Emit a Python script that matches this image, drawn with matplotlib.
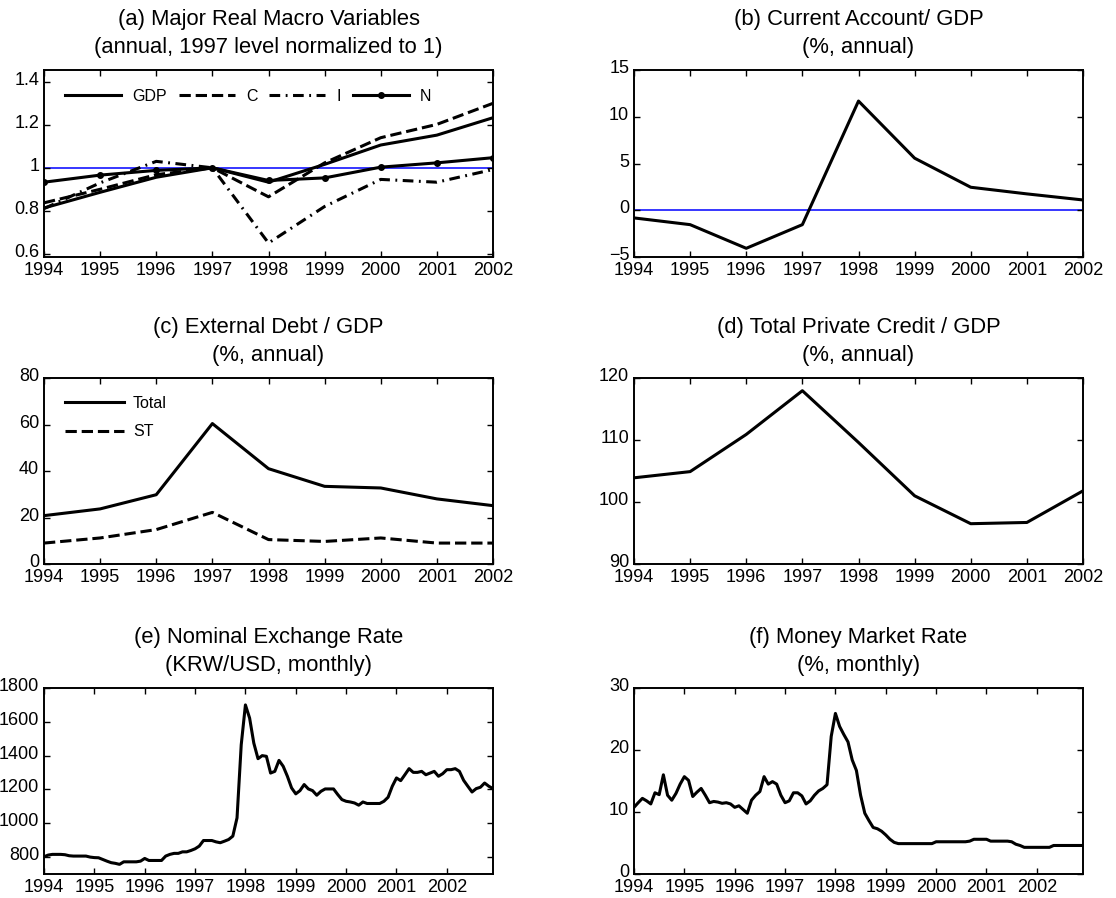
import numpy as np
import matplotlib
matplotlib.use("Agg")
import matplotlib.pyplot as plt
from matplotlib.transforms import ScaledTranslation

# ---------------- data ----------------
years = [1994, 1995, 1996, 1997, 1998, 1999, 2000, 2001, 2002]
year_labels = [str(y) for y in years]

gdp = [0.813, 0.886, 0.956, 1.0, 0.933, 1.016, 1.106, 1.152, 1.233]
cons = [0.837, 0.900, 0.968, 1.0, 0.865, 1.023, 1.140, 1.202, 1.300]
inv = [0.810, 0.930, 1.030, 1.0, 0.650, 0.820, 0.946, 0.933, 0.992]
emp = [0.933, 0.966, 0.988, 1.0, 0.941, 0.953, 1.003, 1.023, 1.047]

ca_gdp = [-0.82, -1.54, -4.07, -1.54, 11.68, 5.57, 2.46, 1.75, 1.10]

debt_total = [20.8, 23.7, 29.8, 60.4, 41.0, 33.4, 32.7, 28.0, 25.1]
debt_st = [9.0, 11.2, 14.8, 22.2, 10.5, 9.7, 11.2, 9.0, 9.0]

credit_gdp = [103.9, 104.9, 110.9, 117.95, 109.6, 101.0, 96.5, 96.7, 101.8]

# monthly, Jan 1994 .. Dec 2002
krw_usd = [
    802, 812, 816, 816, 816, 814, 808, 806, 806, 806, 806, 800,
    797, 796, 786, 776, 767, 763, 757, 772, 772, 772, 772, 776,
    792, 780, 780, 780, 780, 806, 816, 822, 822, 831, 831, 839,
    849, 865, 898, 898, 898, 890, 885, 894, 904, 924, 1032, 1464,
    1700, 1622, 1474, 1382, 1400, 1396, 1297, 1307, 1372, 1337, 1278, 1209,
    1174, 1193, 1229, 1203, 1193, 1166, 1189, 1203, 1203, 1203, 1170, 1140,
    1130, 1126, 1120, 1107, 1126, 1117, 1117, 1117, 1117, 1130, 1154, 1219,
    1268, 1252, 1287, 1323, 1301, 1301, 1307, 1287, 1297, 1307, 1278, 1293,
    1317, 1317, 1323, 1307, 1254, 1219, 1185, 1205, 1213, 1238, 1219, 1205,
]
money_rate = [
    10.75, 11.5, 12.2, 11.8, 11.3, 13.1, 12.8, 16.0, 12.7, 11.9, 13.0, 14.5,
    15.7, 15.1, 12.5, 13.2, 13.8, 12.7, 11.5, 11.7, 11.6, 11.4, 11.5, 11.3,
    10.75, 11.0, 10.4, 9.8, 11.9, 12.7, 13.3, 15.7, 14.5, 14.9, 14.5, 12.7,
    11.5, 11.8, 13.1, 13.1, 12.6, 11.3, 11.8, 12.7, 13.4, 13.8, 14.4, 22.2,
    25.9, 23.8, 22.5, 21.3, 18.4, 16.7, 12.7, 9.8, 8.6, 7.5, 7.3, 6.9,
    6.3, 5.6, 5.1, 4.9, 4.9, 4.9, 4.9, 4.9, 4.9, 4.9, 4.9, 4.9,
    5.2, 5.2, 5.2, 5.2, 5.2, 5.2, 5.2, 5.2, 5.3, 5.6, 5.6, 5.6,
    5.6, 5.3, 5.3, 5.3, 5.3, 5.3, 5.2, 4.8, 4.6, 4.3, 4.3, 4.3,
    4.3, 4.3, 4.3, 4.3, 4.6, 4.6, 4.6, 4.6, 4.6, 4.6, 4.6, 4.6,
]
months = 1994 + np.arange(len(krw_usd)) / 12.0

titles = [
    "(a) Major Real Macro Variables\n(annual, 1997 level normalized to 1)",
    "(b) Current Account/ GDP\n(%, annual)",
    "(c) External Debt / GDP\n(%, annual)",
    "(d) Total Private Credit / GDP\n(%, annual)",
    "(e) Nominal Exchange Rate\n(KRW/USD, monthly)",
    "(f) Money Market Rate\n(%, monthly)",
]

a_yticks = [0.6, 0.8, 1.0, 1.2, 1.4]
a_ylabels = ["0.6", "0.8", "1", "1.2", "1.4"]

# ---------------- style ----------------
TICK_FONT = ["Liberation Sans Narrow", "Liberation Sans", "DejaVu Sans"]
TITLE_FONT = ["Liberation Sans", "DejaVu Sans"]
LW = 2.2

fig = plt.figure(figsize=(11.16, 8.98), dpi=100)
W, H = 1116.0, 898.0
col_x = [44 / W, 634 / W]
col_w = 449 / W
row_y = [1 - 257 / H, 1 - 564 / H, 1 - 874 / H]
row_h = [187 / H, 186 / H, 186 / H]

axes = []
for r in range(3):
    for c in range(2):
        ax = fig.add_axes([col_x[c], row_y[r], col_w, row_h[r]])
        axes.append(ax)

lift = ScaledTranslation(0, 2.5 / 72.0, fig.dpi_scale_trans)


def style(ax, title):
    for s in ax.spines.values():
        s.set_linewidth(1.4)
    ax.tick_params(direction="in", top=True, right=True, length=4, width=1,
                   pad=3.5)
    for lab in ax.get_xticklabels() + ax.get_yticklabels():
        lab.set_family(TICK_FONT)
        lab.set_fontsize(13)
    for t in ax.yaxis.get_major_ticks():
        t.label1.set_transform(t.label1.get_transform() + lift)
    ax.set_title(title, fontsize=15.8, family=TITLE_FONT, linespacing=1.42,
                 pad=12.5)


leg_prop = {"family": TITLE_FONT, "size": 11.5}

# (a)
ax = axes[0]
ax.axhline(1.0, color="#0000ff", lw=1.1, zorder=1)
ax.plot(years, gdp, color="k", lw=LW, ls="-", label="GDP")
ax.plot(years, cons, color="k", lw=LW, ls="--", label="C")
ax.plot(years, inv, color="k", lw=LW, ls=(0, (3.5, 1.8, 0.6, 1.8)), label="I")
ax.plot(years, emp, color="k", lw=LW, ls="-", marker="o", ms=4, label="N")
ax.set_xlim(1994, 2002)
ax.set_ylim(0.585, 1.455)
ax.set_xticks(years)
ax.set_xticklabels(year_labels)
ax.set_yticks(a_yticks)
ax.set_yticklabels(a_ylabels)
ax.legend(ncol=4, loc="upper left", bbox_to_anchor=(0.022, 0.96),
          frameon=False, handlelength=3.5, handletextpad=0.7,
          columnspacing=0.75, borderaxespad=0.3, prop=leg_prop)
style(ax, titles[0])

# (b)
ax = axes[1]
ax.axhline(0.0, color="#0000ff", lw=1.1, zorder=1)
ax.plot(years, ca_gdp, color="k", lw=LW)
ax.set_xlim(1994, 2002)
ax.set_ylim(-5, 15)
ax.set_xticks(years)
ax.set_xticklabels(year_labels)
ax.set_yticks([-5, 0, 5, 10, 15])
style(ax, titles[1])

# (c)
ax = axes[2]
ax.plot(years, debt_total, color="k", lw=LW, ls="-", label="Total")
ax.plot(years, debt_st, color="k", lw=LW, ls="--", label="ST")
ax.set_xlim(1994, 2002)
ax.set_ylim(0, 80)
ax.set_xticks(years)
ax.set_xticklabels(year_labels)
ax.set_yticks([0, 20, 40, 60, 80])
ax.legend(loc="upper left", bbox_to_anchor=(0.022, 0.965), frameon=False,
          handlelength=3.7, handletextpad=0.55, labelspacing=0.85,
          borderaxespad=0.3, prop=leg_prop)
style(ax, titles[2])

# (d)
ax = axes[3]
ax.plot(years, credit_gdp, color="k", lw=LW)
ax.set_xlim(1994, 2002)
ax.set_ylim(90, 120)
ax.set_xticks(years)
ax.set_xticklabels(year_labels)
ax.set_yticks([90, 100, 110, 120])
style(ax, titles[3])

# (e)
ax = axes[4]
ax.plot(months, krw_usd, color="k", lw=LW)
ax.set_xlim(1994, months[-1])
ax.set_ylim(700, 1800)
ax.set_xticks(years)
ax.set_xticklabels(year_labels)
ax.set_yticks([800, 1000, 1200, 1400, 1600, 1800])
style(ax, titles[4])

# (f)
ax = axes[5]
ax.plot(months, money_rate, color="k", lw=LW)
ax.set_xlim(1994, months[-1])
ax.set_ylim(0, 30)
ax.set_xticks(years)
ax.set_xticklabels(year_labels)
ax.set_yticks([0, 10, 20, 30])
style(ax, titles[5])

fig.savefig("out.png", dpi=100)
